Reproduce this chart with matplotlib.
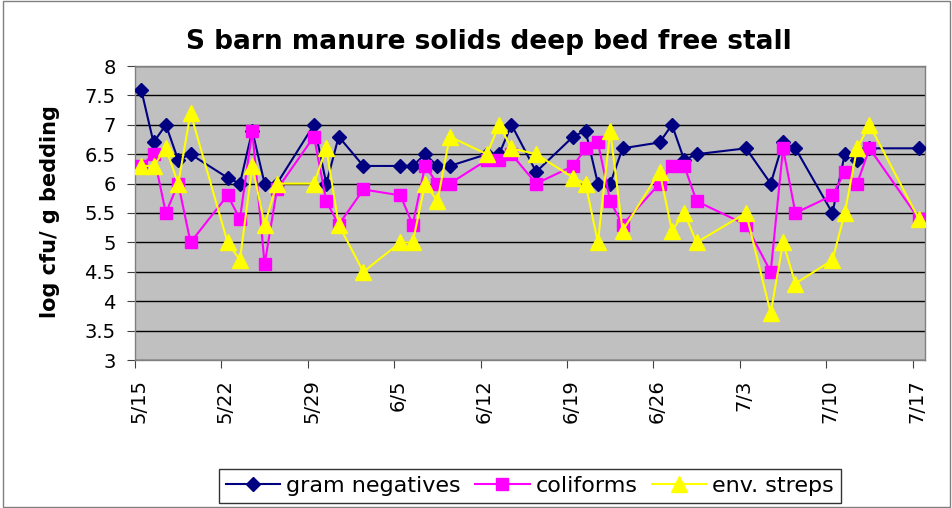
import datetime as dt
import matplotlib
matplotlib.use("Agg")
import matplotlib.pyplot as plt
from matplotlib.patches import Rectangle
from matplotlib.transforms import ScaledTranslation

plt.rcParams['font.family'] = ['DejaVu Sans']

dates = ["5/15", "5/16", "5/17", "5/18", "5/19", "5/22", "5/23", "5/24", "5/25", "5/26",
         "5/29", "5/30", "5/31", "6/2", "6/5", "6/6", "6/7", "6/8", "6/9", "6/12",
         "6/13", "6/14", "6/16", "6/19", "6/20", "6/21", "6/22", "6/23", "6/26", "6/27",
         "6/28", "6/29", "7/3", "7/5", "7/6", "7/7", "7/10", "7/11", "7/12", "7/13", "7/17"]

gram_negatives = [7.6, 6.7, 7.0, 6.4, 6.5, 6.1, 6.0, 6.9, 6.0, 6.0,
                  7.0, 6.0, 6.8, 6.3, 6.3, 6.3, 6.5, 6.3, 6.3, 6.5,
                  6.5, 7.0, 6.2, 6.8, 6.9, 6.0, 6.0, 6.6, 6.7, 7.0,
                  6.4, 6.5, 6.6, 6.0, 6.7, 6.6, 5.5, 6.5, 6.4, 6.6, 6.6]

coliforms = [6.3, 6.5, 5.5, 6.0, 5.0, 5.8, 5.4, 6.9, 4.63, 5.9,
             6.8, 5.7, 5.3, 5.9, 5.8, 5.3, 6.3, 6.0, 6.0, 6.4,
             6.4, 6.5, 6.0, 6.3, 6.6, 6.7, 5.7, 5.3, 6.0, 6.3,
             6.3, 5.7, 5.3, 4.5, 6.6, 5.5, 5.8, 6.2, 6.0, 6.6, 5.4]

env_streps = [6.3, 6.3, 6.6, 6.0, 7.2, 5.0, 4.7, 6.3, 5.3, 6.0,
              6.0, 6.6, 5.3, 4.5, 5.0, 5.0, 6.0, 5.7, 6.8, 6.5,
              7.0, 6.6, 6.5, 6.1, 6.0, 5.0, 6.9, 5.2, 6.2, 5.2,
              5.5, 5.0, 5.5, 3.8, 5.0, 4.3, 4.7, 5.5, 6.6, 7.0, 5.4]

tick_labels = ["5/15", "5/22", "5/29", "6/5", "6/12", "6/19", "6/26", "7/3", "7/10", "7/17"]

title = "S barn manure solids deep bed free stall"
ylabel = "log cfu/ g bedding"
series_names = ["gram negatives", "coliforms", "env. streps"]


def to_day(s):
    m, d = s.split("/")
    return (dt.date(2006, int(m), int(d)) - dt.date(2006, 5, 15)).days


# points sit in the middle of each day slot (Excel date axis, between tick marks)
x = [to_day(s) + 0.5 for s in dates]
tick_pos = [to_day(s) for s in tick_labels]

fig = plt.figure(figsize=(9.53, 5.08), dpi=100)
fig.patches.append(Rectangle((0.003, 0.002), 0.994, 0.996, transform=fig.transFigure,
                             fill=False, edgecolor='#808080', linewidth=1.0))

ax = fig.add_axes([135 / 953, 1 - 360 / 508, 790 / 953, 294 / 508])
ax.set_facecolor('#C0C0C0')
for sp in ax.spines.values():
    sp.set_color('#808080')
    sp.set_linewidth(1.0)

ax.set_ylim(3, 8)
ax.set_yticks([3 + 0.5 * i for i in range(11)])
ax.set_yticklabels([f"{3 + 0.5 * i:g}" for i in range(11)])
ax.yaxis.grid(True, color='black', linewidth=1.0)
ax.set_axisbelow(True)

ax.set_xlim(0, 64)
ax.set_xticks(tick_pos)
ax.set_xticklabels(tick_labels, rotation=90)

ax.tick_params(axis='both', labelsize=14, direction='out', length=6, color='#404040')
ax.tick_params(axis='y', pad=8)
ax.tick_params(axis='x', pad=8)
offset = ScaledTranslation(4 / 100, 0, fig.dpi_scale_trans)
for lab in ax.get_xticklabels():
    lab.set_transform(lab.get_transform() + offset)

ax.plot(x, gram_negatives, color='#000080', marker='D', markersize=7,
        linewidth=1.5, label=series_names[0], zorder=3)
ax.plot(x, coliforms, color='#FF00FF', marker='s', markersize=8.5,
        linewidth=1.5, label=series_names[1], zorder=4)
ax.plot(x, env_streps, color='#FFFF00', marker='^', markersize=11,
        linewidth=1.5, label=series_names[2], zorder=5)

fig.text(50 / 953, 1 - 212 / 508, ylabel, rotation=90, ha='center', va='center',
         fontsize=15, fontweight='bold')
fig.text(489 / 953, 1 - 42 / 508, title, ha='center', va='center',
         fontsize=19, fontweight='bold')

leg = fig.legend(loc='center', bbox_to_anchor=(530 / 953, 1 - 486 / 508), ncol=3,
                 fontsize=16, frameon=True, fancybox=False, edgecolor='black',
                 handlelength=2.45, columnspacing=0.64, handletextpad=0.27,
                 borderpad=0.3)
leg.get_frame().set_linewidth(1.0)

fig.savefig("out.png", dpi=100)
